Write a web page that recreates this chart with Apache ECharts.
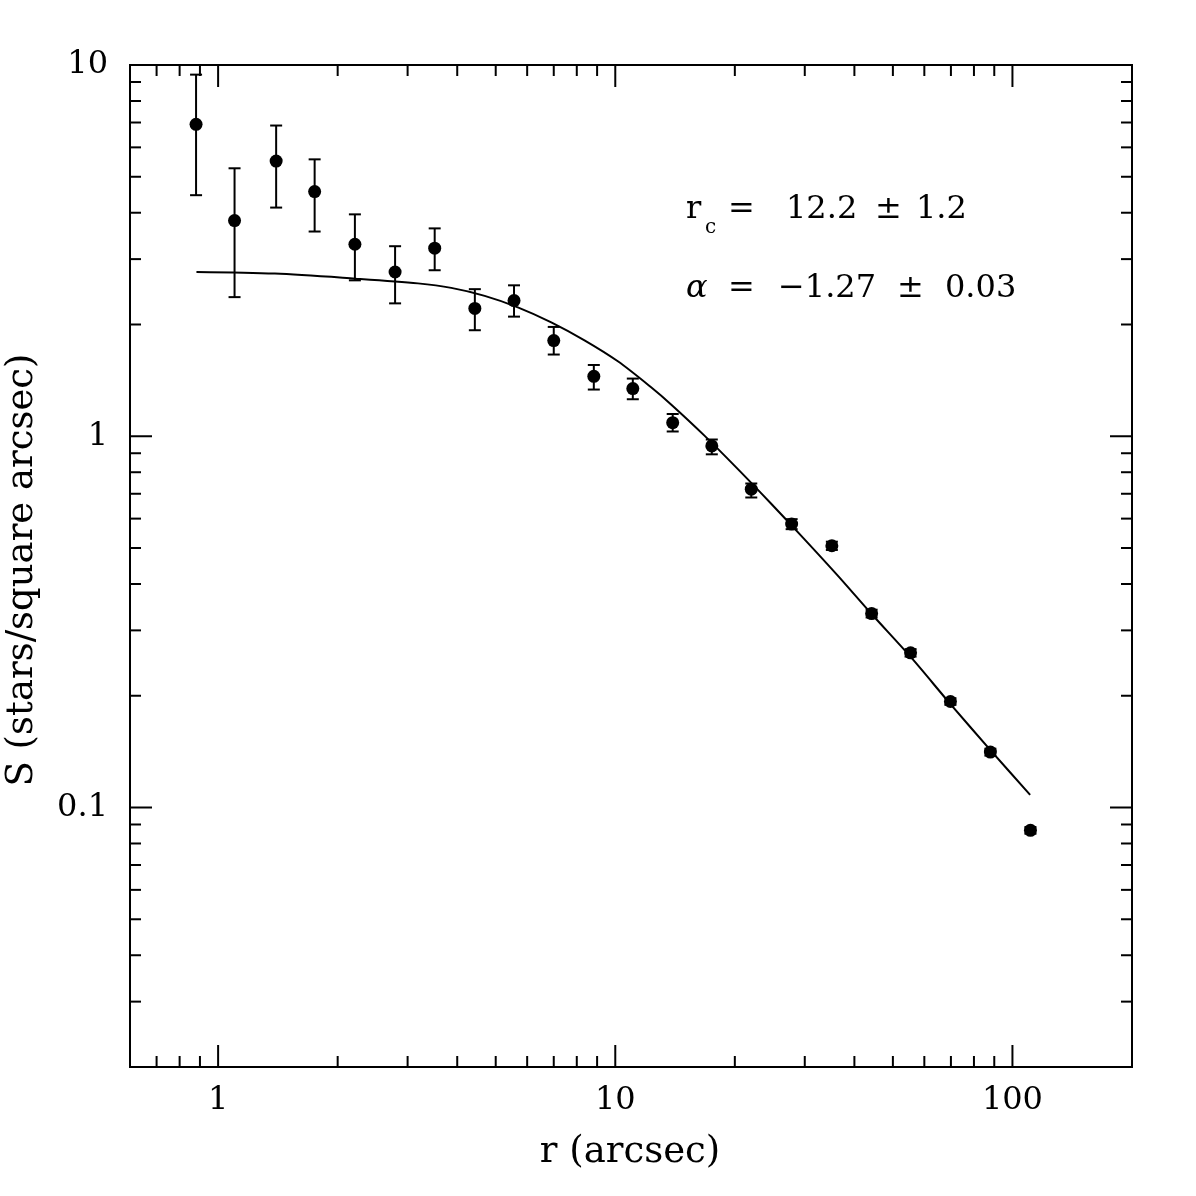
<!DOCTYPE html>
<html>
<head>
<meta charset="utf-8">
<script src="https://cdn.jsdelivr.net/npm/echarts@6/dist/echarts.min.js"></script>
<style>
  html, body { margin: 0; background: #fff; }
  #chart { width: 1196px; height: 1196px; }
</style>
</head>
<body>
<div id="chart"></div>
<script>
// radial profile: r (arcsec) vs surface density
const radius = [0.88, 1.10, 1.40, 1.75, 2.21, 2.79, 3.51, 4.43, 5.56, 7.0, 8.83,
  11.07, 13.95, 17.5, 22.0, 27.8, 35.1, 44.2, 55.4, 69.8, 88.0, 111];
const density = [6.92, 3.81, 5.51, 4.56, 3.29, 2.77, 3.21, 2.21, 2.32, 1.81, 1.45,
  1.344, 1.088, 0.942, 0.720, 0.580, 0.507, 0.333, 0.261, 0.193, 0.141, 0.0868];
const errLow = [4.46, 2.37, 4.13, 3.56, 2.63, 2.28, 2.80, 1.93, 2.10, 1.66, 1.336,
  1.258, 1.03, 0.894, 0.684, 0.562, 0.494, 0.325, 0.255, 0.189, 0.138, 0.085];
const errHigh = [9.42, 5.27, 6.87, 5.57, 3.96, 3.25, 3.63, 2.49, 2.55, 1.97, 1.556,
  1.43, 1.148, 0.98, 0.746, 0.598, 0.520, 0.341, 0.267, 0.197, 0.144, 0.0886];

// fitted model curve
const fitR = [0.882, 1.389, 2.215, 3.185, 3.864, 4.69, 5.684, 6.90, 8.366, 10.15, 12.31,
  13.82, 16.77, 20.33, 24.66, 29.92, 36.28, 44.2, 55.5, 69.9, 88.0, 110.8];
const fitS = [2.77, 2.742, 2.658, 2.581, 2.510, 2.389, 2.225, 2.027, 1.813, 1.592, 1.355,
  1.218, 1.004, 0.817, 0.659, 0.5285, 0.422, 0.332, 0.254, 0.1896, 0.1428, 0.1081];

// ticks
const xMajor = [1, 10, 100];
const xMinor = [0.7, 0.8, 0.9, 2, 3, 4, 5, 6, 7, 8, 9, 20, 30, 40, 50, 60, 70, 80, 90];
const yMajor = [0.1, 1, 10];
const yMinor = [0.02, 0.03, 0.04, 0.05, 0.06, 0.07, 0.08, 0.09,
  0.2, 0.3, 0.4, 0.5, 0.6, 0.7, 0.8, 0.9, 2, 3, 4, 5, 6, 7, 8, 9];

const X_MIN = 0.6, X_MAX = 200, Y_MIN = 0.02, Y_MAX = 10;
const FONT = '"DejaVu Serif", "Liberation Serif", serif';

let tickData = [];
xMajor.forEach(v => tickData.push([v, Y_MIN, 0, 1]));
xMinor.forEach(v => tickData.push([v, Y_MIN, 0, 0]));
yMajor.forEach(v => tickData.push([X_MIN, v, 1, 1]));
yMinor.forEach(v => tickData.push([X_MIN, v, 1, 0]));

function seg(x1, y1, x2, y2) {
  return {
    type: 'line',
    shape: { x1: x1, y1: y1, x2: x2, y2: y2 },
    style: { stroke: '#000', lineWidth: 2 }
  };
}

function txt(x, y, s, size, align, valign) {
  return {
    type: 'text',
    x: x, y: y,
    style: {
      text: s, fill: '#000', fontSize: size, fontFamily: FONT,
      align: align, verticalAlign: valign,
      textAlign: align, textVerticalAlign: valign
    }
  };
}

function renderTicks(params, api) {
  const dir = api.value(2);
  const major = api.value(3);
  const len = major ? 22 : 11;
  let children = [];
  if (dir === 0) {
    const v = api.value(0);
    const b = api.coord([v, Y_MIN]);
    const t = api.coord([v, Y_MAX]);
    children.push(seg(b[0], b[1], b[0], b[1] - len));
    children.push(seg(t[0], t[1], t[0], t[1] + len));
    if (major) children.push(txt(b[0], b[1] + 34, String(v), 32, 'center', 'middle'));
  } else {
    const v = api.value(1);
    const l = api.coord([X_MIN, v]);
    const r = api.coord([X_MAX, v]);
    children.push(seg(l[0], l[1], l[0] + len, l[1]));
    children.push(seg(r[0], r[1], r[0] - len, r[1]));
    if (major) children.push(txt(l[0] - 22, l[1], String(v), 32, 'right', 'middle'));
  }
  return { type: 'group', children: children };
}

function renderErr(params, api) {
  const x = api.value(0);
  const lo = api.coord([x, api.value(1)]);
  const hi = api.coord([x, api.value(2)]);
  const w = 6;
  return {
    type: 'group',
    children: [
      seg(lo[0], lo[1], hi[0], hi[1]),
      seg(lo[0] - w, lo[1], lo[0] + w, lo[1]),
      seg(hi[0] - w, hi[1], hi[0] + w, hi[1])
    ]
  };
}

function label(x, y, s, size, extra) {
  return {
    type: 'text', x: x, y: y,
    style: Object.assign({
      text: s, fill: '#000', fontSize: size, fontFamily: FONT,
      align: 'left', verticalAlign: 'middle'
    }, extra || {})
  };
}

const chart = echarts.init(document.getElementById('chart'));
chart.setOption({
  animation: false,
  backgroundColor: '#fff',
  grid: {
    left: 130, right: 64, top: 65, bottom: 129,
    show: true, borderColor: '#000', borderWidth: 2
  },
  xAxis: {
    type: 'log', logBase: 10, min: X_MIN, max: X_MAX,
    axisLine: { show: false }, axisTick: { show: false },
    axisLabel: { show: false }, splitLine: { show: false }
  },
  yAxis: {
    type: 'log', logBase: 10, min: Y_MIN, max: Y_MAX,
    axisLine: { show: false }, axisTick: { show: false },
    axisLabel: { show: false }, splitLine: { show: false }
  },
  graphic: [
    label(630, 1152, 'r (arcsec)', 37, { align: 'center' }),
    Object.assign(label(22, 570, 'S (stars/square arcsec)', 37, { align: 'center' }), { rotation: Math.PI / 2 }),
    // r_c = 12.2 ± 1.2
    label(686, 210, 'r', 32),
    label(705, 228, 'c', 20),
    label(728, 210, '=', 32),
    label(786, 210, '12.2', 32),
    label(875, 210, '±', 32),
    label(916, 210, '1.2', 32),
    // alpha = -1.27 ± 0.03
    label(686, 289, 'α', 32, { fontStyle: 'italic' }),
    label(728, 289, '=', 32),
    label(778, 289, '−1.27', 32),
    label(897, 289, '±', 32),
    label(945, 289, '0.03', 32)
  ],
  series: [
    {
      type: 'custom', name: 'ticks', renderItem: renderTicks, clip: false,
      silent: true, data: tickData, z: 5
    },
    {
      type: 'custom', name: 'errors', renderItem: renderErr,
      data: radius.map((r, i) => [r, errLow[i], errHigh[i]]), z: 3
    },
    {
      type: 'scatter', name: 'S', symbol: 'circle', symbolSize: 13,
      itemStyle: { color: '#000', opacity: 1 },
      data: radius.map((r, i) => [r, density[i]]), z: 4
    },
    {
      type: 'line', name: 'fit', showSymbol: false, smooth: 0.3,
      lineStyle: { color: '#000', width: 2 },
      data: fitR.map((r, i) => [r, fitS[i]]), z: 2
    }
  ]
});
</script>
</body>
</html>
